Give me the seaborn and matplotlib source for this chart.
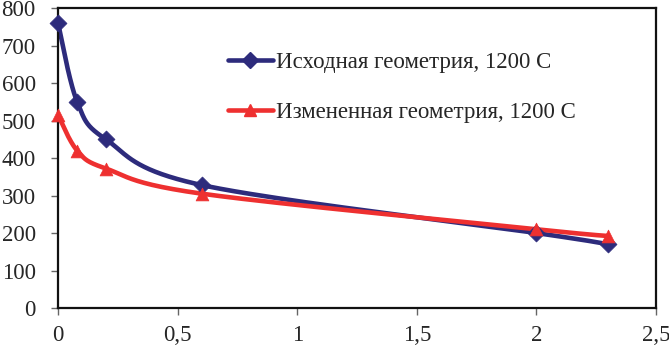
import numpy as np
import pandas as pd
import matplotlib
matplotlib.use("Agg")
import matplotlib.pyplot as plt
from matplotlib.lines import Line2D
from matplotlib.ticker import FuncFormatter
import seaborn as sns

x_vals = [0, 0.08, 0.2, 0.6, 2.0, 2.3]
orig_vals = [760, 550, 450, 328, 200, 170]
mod_vals = [515, 420, 372, 305, 210, 192]
labels = ["Исходная геометрия, 1200 С", "Измененная геометрия, 1200 С"]
blue = "#2D2B7C"
red = "#EE3030"


def smooth(xs, ys, n=40):
    # Catmull-Rom style smoothing, like spreadsheet "smoothed line"
    p = np.column_stack([xs, ys]).astype(float)
    p = np.vstack([p[0], p, p[-1]])
    out = []
    for i in range(1, len(p) - 2):
        p0, p1, p2, p3 = p[i - 1], p[i], p[i + 1], p[i + 2]
        t = np.linspace(0, 1, n)[:, None]
        c1 = p1 + (p2 - p0) / 6
        c2 = p2 - (p3 - p1) / 6
        seg = ((1 - t) ** 3) * p1 + 3 * ((1 - t) ** 2) * t * c1 + 3 * (1 - t) * t ** 2 * c2 + t ** 3 * p2
        out.append(seg)
    out = np.vstack(out)
    return out[:, 0], out[:, 1]


sns.set_style("ticks")
plt.rcParams["font.family"] = ["Liberation Serif", "DejaVu Serif"]

fig = plt.figure(figsize=(6.69, 3.5), dpi=100)
ax = fig.add_axes([0.0867, 0.12, 0.894, 0.857])

for ys, col, mk, ms in [(orig_vals, blue, "D", 75), (mod_vals, red, "^", 85)]:
    sx, sy = smooth(x_vals, ys)
    df = pd.DataFrame({"x": sx, "y": sy})
    sns.lineplot(data=df, x="x", y="y", ax=ax, color=col, linewidth=3.3, sort=False,
                 estimator=None)
    pts = pd.DataFrame({"x": x_vals, "y": ys})
    sns.scatterplot(data=pts, x="x", y="y", ax=ax, color=col, marker=mk, s=ms,
                    edgecolor=col, linewidth=0.5, zorder=5, clip_on=False)

ax.set_xlim(0, 2.5)
ax.set_ylim(0, 800)
ax.set_xticks([0, 0.5, 1, 1.5, 2, 2.5])
ax.set_yticks(range(0, 801, 100))
ax.xaxis.set_major_formatter(FuncFormatter(lambda v, p: f"{v:g}".replace(".", ",")))
ax.set_xlabel("")
ax.set_ylabel("")
ax.tick_params(labelsize=16.5, length=5, width=1, color="#666666", direction="out")
ax.tick_params(axis="y", pad=11)
ax.tick_params(axis="x", pad=7)
for s in ax.spines.values():
    s.set_linewidth(1.6)
    s.set_color("#111111")

handles = [
    Line2D([], [], color=blue, lw=3.3, marker="D", markersize=8),
    Line2D([], [], color=red, lw=3.3, marker="^", markersize=9),
]
fig.legend(handles, labels, loc="center left", bbox_to_anchor=(0.341, 0.75),
           frameon=False, fontsize=16.5, labelspacing=1.27, handlelength=1.95,
           handletextpad=0.15, borderpad=0, borderaxespad=0)

fig.savefig("out.png", dpi=100)
